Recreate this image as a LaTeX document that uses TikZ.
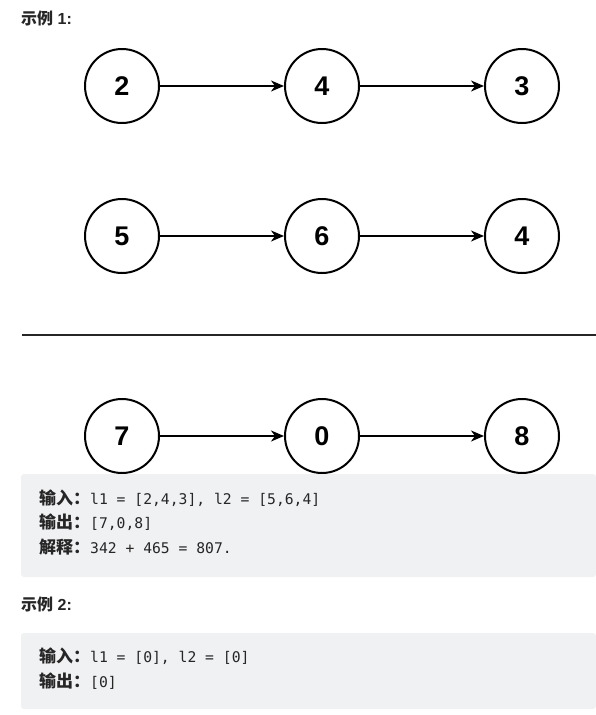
\documentclass[tikz,border=0pt]{standalone}
\usepackage{fontspec}
\setmainfont{Liberation Sans}
\setmonofont{DejaVu Sans Mono}
\newfontfamily\cjk{Noto Sans CJK SC}
\newcommand{\zh}[1]{{\cjk\bfseries\fontsize{17}{17}\selectfont #1}}
\usetikzlibrary{positioning, arrows.meta}
\definecolor{codebg}{HTML}{F0F1F3}
\definecolor{ink}{HTML}{262626}

\begin{document}
\begin{tikzpicture}[x=1pt, y=-1pt, >={Stealth[length=13pt, width=11pt, inset=4pt]}, node distance=200pt,
    digit/.style={circle, draw, line width=2pt, minimum size=74pt, inner sep=0pt, font=\bfseries\fontsize{27}{27}\selectfont},
    link/.style={->, line width=1.5pt},
    txt/.style={anchor=west, inner sep=0pt, text=ink, font=\fontsize{16}{16}\selectfont},
    code/.style={txt, font=\fontsize{14.7}{16}\selectfont}]
      \useasboundingbox (0,0) rectangle (596,715);
      \node[txt] (t1) at (21,18) {{\cjk\bfseries 示例} \textbf{1:}};
      % first list
      \node[digit] (a1) at (122,86) {2};
      \node[digit] (a2) [right of=a1] {4};
      \node[digit] (a3) [right of=a2] {3};
      % second list
      \node[digit] (b1) at (122,236) {5};
      \node[digit] (b2) [right of=b1] {6};
      \node[digit] (b3) [right of=b2] {4};
      \coordinate (r1) at (22,335);
      \coordinate (r2) at (596,335);
      \draw[line width=2.5pt, black!85] (r1) -- (r2);
      % sum
      \node[digit] (c1) at (122,436) {7};
      \node[digit] (c2) [right of=c1] {0};
      \node[digit] (c3) [right of=c2] {8};
      \path (a1) edge[link] (a2) (a2) edge[link] (a3)
            (b1) edge[link] (b2) (b2) edge[link] (b3)
            (c1) edge[link] (c2) (c2) edge[link] (c3);
      \fill[codebg, rounded corners=3pt] (21,474) rectangle (596,577);
      \node[code] (i1) at (39,498) {\zh{输入：}\ttfamily l1 = [2,4,3], l2 = [5,6,4]};
      \node[code] (o1) at (39,522) {\zh{输出：}\ttfamily [7,0,8]};
      \node[code] (e1) at (39,547) {\zh{解释：}\ttfamily 342 + 465 = 807.};
      \node[txt] (t2) at (21,604) {{\cjk\bfseries 示例} \textbf{2:}};
      \fill[codebg, rounded corners=3pt] (21,633) rectangle (596,709);
      \node[code] (i2) at (39,656) {\zh{输入：}\ttfamily l1 = [0], l2 = [0]};
      \node[code] (o2) at (39,681) {\zh{输出：}\ttfamily [0]};
    \end{tikzpicture}
\end{document}
